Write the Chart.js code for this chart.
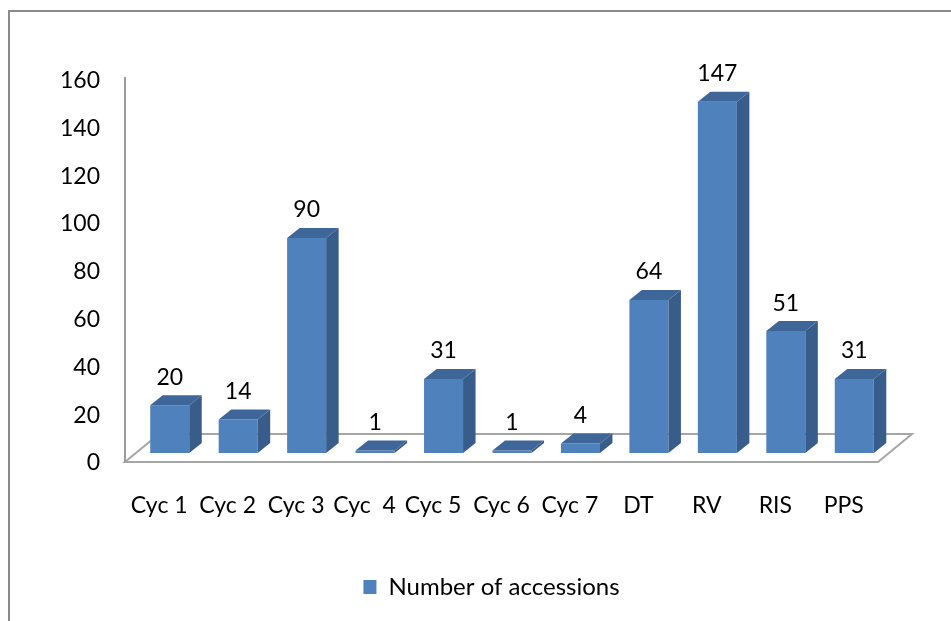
<!DOCTYPE html>
<html>
<head>
<meta charset="utf-8">
<title>Number of accessions</title>
<script src="https://cdn.jsdelivr.net/npm/chart.js@4/dist/chart.umd.min.js"></script>
<style>
  html, body { margin: 0; padding: 0; background: #ffffff; }
  canvas { display: block; }
</style>
</head>
<body>
<canvas id="chart" width="951" height="621"></canvas>
<script>
// ---- data ----
const categories = ['Cyc 1', 'Cyc 2', 'Cyc 3', 'Cyc  4', 'Cyc 5', 'Cyc 6', 'Cyc 7', 'DT', 'RV', 'RIS', 'PPS'];
const accessions = [20, 14, 90, 1, 31, 1, 4, 64, 147, 51, 31];
const seriesName = 'Number of accessions';
const yMin = 0;
const yMax = 160;
const yStep = 20;

// ---- look ----
const FONT_FAMILY = 'Lato, "Open Sans", sans-serif';
const TEXT_COLOR = '#000000';
const FRONT_COLOR = '#4F81BD';
const SIDE_COLOR = '#385D8A';
const TOP_COLOR = '#3E6699';
const FLOOR_COLOR = '#a6a6a6';
const AXIS_COLOR = '#9a9a9a';
const FRAME_COLOR = '#8a8a8a';

// oblique projection used for the 3-D look
const BAR_DEPTH = { dx: 12.5, dy: -10 };    // depth of each column
const FRONT_PLANE = { dx: -10.5, dy: 9 };   // floor front edge relative to the column plane
const FLOOR_DEPTH = { dx: 34, dy: -28 };    // full depth of the floor slab
const LEGEND_LEFT_INSET = 41;               // legend is centred under the walls + axis labels

function poly(ctx, pts, fill) {
  ctx.beginPath();
  ctx.moveTo(pts[0][0], pts[0][1]);
  for (let i = 1; i < pts.length; i++) ctx.lineTo(pts[i][0], pts[i][1]);
  ctx.closePath();
  ctx.fillStyle = fill;
  ctx.fill();
}

const columns3d = {
  id: 'columns3d',
  afterLayout(chart) {
    if (chart.legend) {
      chart.legend.left = chart.chartArea.left - LEGEND_LEFT_INSET;
    }
  },
  beforeDraw(chart) {
    const ctx = chart.ctx;
    ctx.save();
    ctx.fillStyle = '#ffffff';
    ctx.fillRect(0, 0, chart.width, chart.height);
    // outer frame of the chart object
    ctx.strokeStyle = FRAME_COLOR;
    ctx.lineWidth = 2;
    ctx.strokeRect(9, 11, chart.width + 40, chart.height + 40);
    ctx.restore();
  },
  beforeDatasetsDraw(chart) {
    const ctx = chart.ctx;
    const xs = chart.scales.x, ys = chart.scales.y;
    const fx0 = xs.left + FRONT_PLANE.dx;
    const fx1 = xs.right + FRONT_PLANE.dx;
    const fy = ys.getPixelForValue(yMin) + FRONT_PLANE.dy;
    ctx.save();
    // floor slab outline
    ctx.strokeStyle = FLOOR_COLOR;
    ctx.lineWidth = 2;
    ctx.lineJoin = 'miter';
    ctx.beginPath();
    ctx.moveTo(fx0, fy);
    ctx.lineTo(fx1, fy);
    ctx.lineTo(fx1 + FLOOR_DEPTH.dx, fy + FLOOR_DEPTH.dy);
    ctx.lineTo(fx0 + FLOOR_DEPTH.dx, fy + FLOOR_DEPTH.dy);
    ctx.closePath();
    ctx.stroke();
    // value axis line
    ctx.strokeStyle = AXIS_COLOR;
    ctx.beginPath();
    ctx.moveTo(fx0, ys.top + 6.5);
    ctx.lineTo(fx0, fy);
    ctx.stroke();
    ctx.restore();
  },
  afterDatasetsDraw(chart) {
    const ctx = chart.ctx;
    const meta = chart.getDatasetMeta(0);
    ctx.save();
    meta.data.forEach((bar) => {
      const p = bar.getProps(['x', 'y', 'base', 'width'], true);
      const l = p.x - p.width / 2, r = p.x + p.width / 2;
      const t = p.y, b = p.base;
      const dx = BAR_DEPTH.dx, dy = BAR_DEPTH.dy;
      // right side face
      poly(ctx, [[r, t], [r + dx, t + dy], [r + dx, b + dy], [r, b]], SIDE_COLOR);
      // top face
      poly(ctx, [[l, t], [l + dx, t + dy], [r + dx, t + dy], [r, t]], TOP_COLOR);
    });
    // value labels above each column
    ctx.fillStyle = TEXT_COLOR;
    ctx.font = '23px ' + FONT_FAMILY;
    ctx.textAlign = 'center';
    ctx.textBaseline = 'middle';
    meta.data.forEach((bar, i) => {
      const p = bar.getProps(['x', 'y'], true);
      ctx.fillText(String(accessions[i]), p.x, p.y - 28);
    });
    ctx.restore();
  }
};

Chart.defaults.font.family = FONT_FAMILY;
Chart.defaults.color = TEXT_COLOR;

new Chart(document.getElementById('chart'), {
  type: 'bar',
  data: {
    labels: categories,
    datasets: [{
      label: seriesName,
      data: accessions,
      backgroundColor: FRONT_COLOR,
      borderWidth: 0,
      categoryPercentage: 1,
      barPercentage: 0.57
    }]
  },
  options: {
    responsive: false,
    animation: false,
    events: [],
    layout: { padding: { top: 70.6, left: 50, right: 62.5, bottom: 12 } },
    scales: {
      x: {
        grid: { display: false, drawTicks: false },
        border: { display: false },
        ticks: {
          font: { size: 23 },
          color: TEXT_COLOR,
          padding: 39,
          labelOffset: FRONT_PLANE.dx,
          maxRotation: 0,
          minRotation: 0,
          autoSkip: false
        },
        afterFit(scale) { scale.height = 112; }
      },
      y: {
        min: yMin,
        max: yMax,
        grid: { display: false, drawTicks: false },
        border: { display: false },
        ticks: {
          stepSize: yStep,
          font: { size: 23 },
          color: TEXT_COLOR,
          padding: 35.5,
          labelOffset: 10
        },
        afterFit(scale) { scale.width = 85.5; }
      }
    },
    plugins: {
      legend: {
        position: 'bottom',
        labels: {
          font: { size: 24 },
          color: TEXT_COLOR,
          boxWidth: 13,
          boxHeight: 14,
          padding: 10
        }
      },
      tooltip: { enabled: false }
    }
  },
  plugins: [columns3d]
});
</script>
</body>
</html>
